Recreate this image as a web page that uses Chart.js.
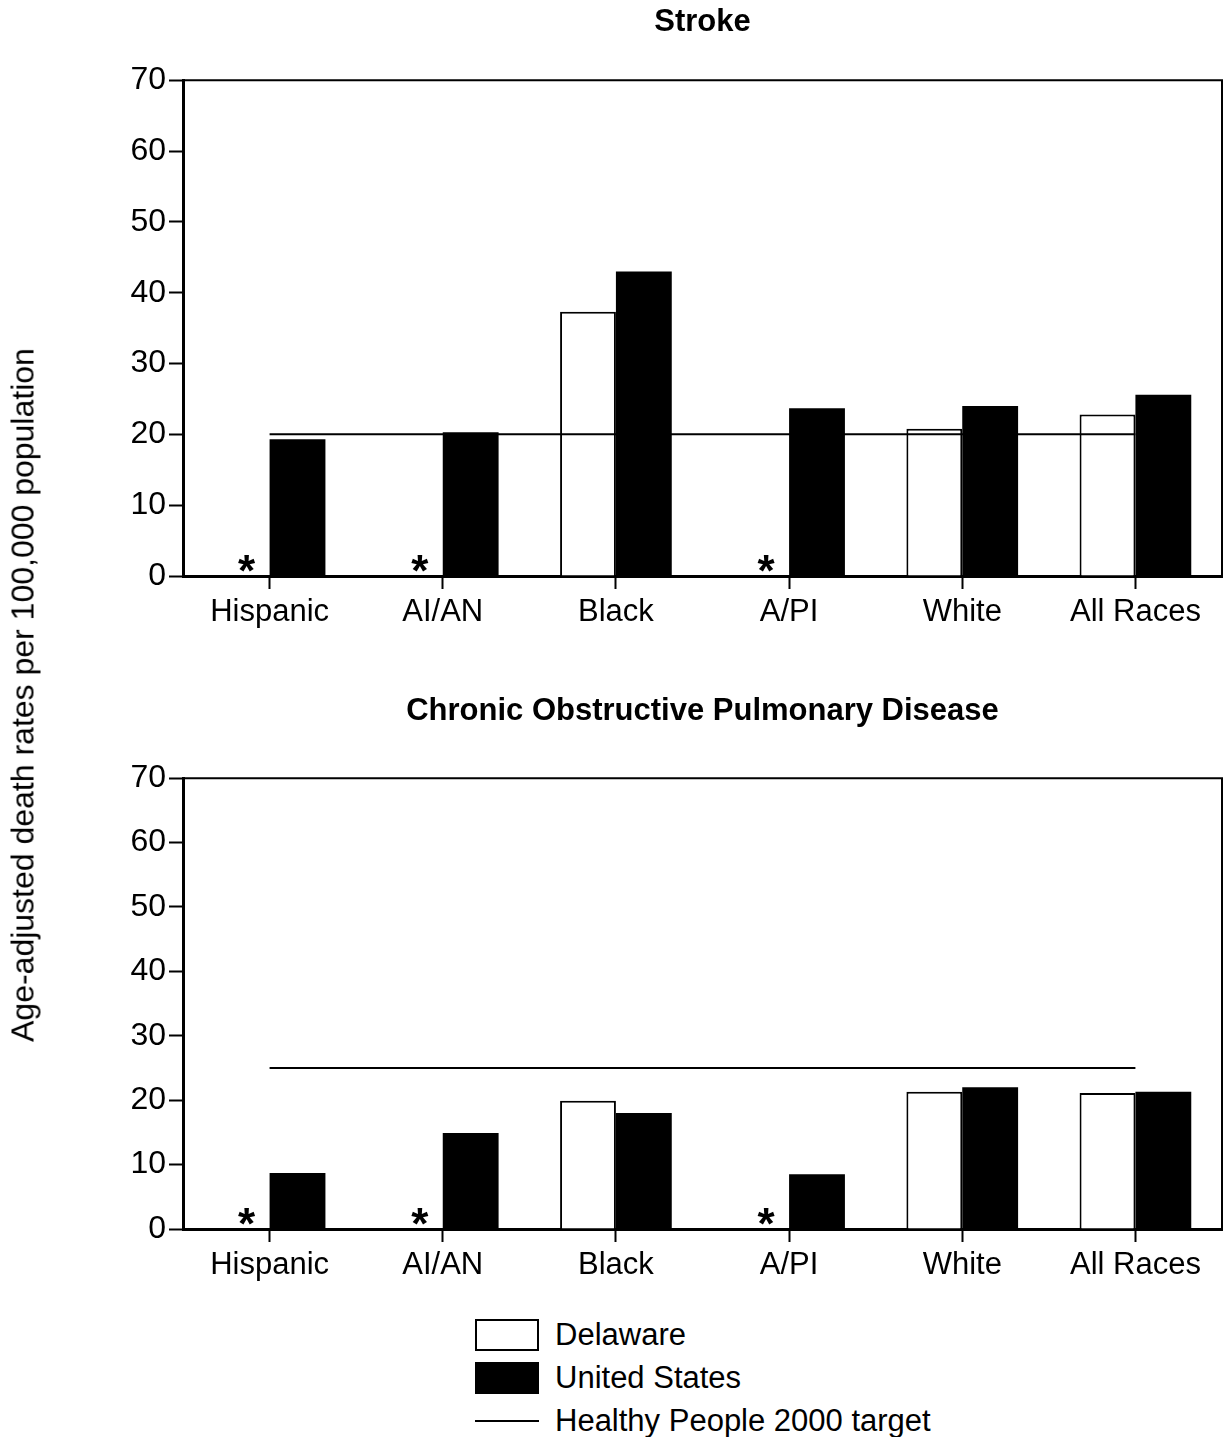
<!DOCTYPE html>
<html>
<head>
<meta charset="utf-8">
<script src="https://cdn.jsdelivr.net/npm/chart.js@4.4.1/dist/chart.umd.min.js"></script>
<style>
  body { margin: 0; background: #fff; font-family: "Liberation Sans", Arial, sans-serif; color: #000; }
  #page { position: relative; width: 1231px; height: 1437px; overflow: hidden; }
  .panel { position: absolute; left: 0; width: 1231px; }
  #strokeWrap { top: 0; height: 660px; }
  #copdWrap { top: 660px; height: 653px; }
  #yTitle {
    position: absolute; left: 23px; top: 695px;
    transform: translate(-50%, -50%) rotate(-90deg);
    white-space: nowrap; font-size: 32px;
  }
  #legend { position: absolute; left: 475px; top: 1313px; font-size: 31px; }
  .item { display: flex; align-items: center; height: 43px; }
  .swatch { width: 60px; height: 28px; border: 2px solid #000; margin-right: 16px; }
  .swatch.us { background: #000; }
  .swatch.line { height: 0; border: none; border-top: 2px solid #000; width: 64px; }
</style>
</head>
<body>
<div id="page">
  <div class="panel" id="strokeWrap"><canvas id="strokeChart"></canvas></div>
  <div class="panel" id="copdWrap"><canvas id="copdChart"></canvas></div>
  <div id="yTitle">Age-adjusted death rates per 100,000 population</div>
  <div id="legend">
    <div class="item"><span class="swatch"></span>Delaware</div>
    <div class="item"><span class="swatch us"></span>United States</div>
    <div class="item"><span class="swatch line"></span>Healthy People 2000 target</div>
  </div>
</div>
<script>
// Categories and values (null = data not shown, marked *)
const categories = ['Hispanic', 'AI/AN', 'Black', 'A/PI', 'White', 'All Races'];

const strokeDelaware = [null, null, 37.3, null, 20.8, 22.8];
const strokeUS = [19.3, 20.3, 43.0, 23.7, 24.0, 25.6];
const strokeTarget = [20, 20, 20, 20, 20, 20];

const copdDelaware = [null, null, 19.9, null, 21.3, 21.1];
const copdUS = [8.7, 14.9, 18.0, 8.5, 22.0, 21.3];
const copdTarget = [25, 25, 25, 25, 25, 25];

const yTicks = [0, 10, 20, 30, 40, 50, 60, 70];

Chart.defaults.font.family = '"Liberation Sans", Arial, sans-serif';
Chart.defaults.color = '#000';

// Asterisk where the Delaware rate is not available
const asteriskPlugin = {
    id: 'asterisks',
    afterDatasetsDraw(chart) {
        const ctx = chart.ctx;
        const y0 = chart.scales.y.getPixelForValue(0);
        const usMeta = chart.getDatasetMeta(1);
        ctx.save();
        ctx.font = 'bold 44px "Liberation Sans", Arial, sans-serif';
        ctx.fillStyle = '#000';
        ctx.textAlign = 'center';
        ctx.textBaseline = 'alphabetic';
        chart.data.datasets[0].data.forEach((v, i) => {
            if (v === null) {
                const bar = usMeta.data[i];
                ctx.fillText('*', bar.x - bar.width + 5, y0 + 10);
            }
        });
        ctx.restore();
    }
};

// Top and right edges of the plot box
const framePlugin = {
    id: 'frame',
    afterDraw(chart) {
        const { ctx, chartArea: a } = chart;
        ctx.save();
        ctx.strokeStyle = '#000';
        ctx.lineWidth = 2;
        ctx.beginPath();
        ctx.moveTo(a.left, a.top);
        ctx.lineTo(a.right, a.top);
        ctx.lineTo(a.right, a.bottom);
        ctx.stroke();
        ctx.restore();
    }
};

function createPanel(id, title, titlePad, delaware, us, target) {
    const ctx = document.getElementById(id);
    return new Chart(ctx, {
        type: 'bar',
        data: {
            labels: categories,
            datasets: [{
                label: 'Delaware',
                data: delaware,
                backgroundColor: '#fff',
                borderColor: '#000',
                borderWidth: 2,
                order: 1
            }, {
                label: 'United States',
                data: us,
                backgroundColor: '#000',
                borderWidth: 0,
                order: 1
            }, {
                type: 'line',
                label: 'Healthy People 2000 target',
                data: target,
                borderColor: '#000',
                borderWidth: 2,
                pointRadius: 0,
                order: 0
            }]
        },
        options: {
            responsive: true,
            maintainAspectRatio: false,
            animation: false,
            layout: { padding: { left: 0, right: 9, top: 0, bottom: 0 } },
            datasets: { bar: { barPercentage: 1.0, categoryPercentage: 0.645 } },
            scales: {
                x: {
                    grid: { display: true, offset: false, drawOnChartArea: false, tickLength: 13, tickWidth: 2, tickColor: '#000' },
                    border: { display: true, color: '#000', width: 3 },
                    ticks: { font: { size: 31 }, padding: 5, maxRotation: 0 },
                    afterFit(axis) { axis.height = 84; }
                },
                y: {
                    min: 0,
                    max: 70,
                    afterBuildTicks(axis) { axis.ticks = yTicks.map(v => ({ value: v })); },
                    grid: { display: true, drawOnChartArea: false, tickLength: 14, tickWidth: 2, tickColor: '#000' },
                    border: { display: true, color: '#000', width: 3 },
                    ticks: { font: { size: 32 }, padding: 3 },
                    afterFit(axis) { axis.width = 183; }
                }
            },
            plugins: {
                legend: { display: false },
                tooltip: { enabled: false },
                title: {
                    display: true,
                    fullSize: false,
                    text: title,
                    font: { size: 31, weight: 'bold' },
                    padding: titlePad
                }
            }
        },
        plugins: [asteriskPlugin, framePlugin]
    });
}

createPanel('strokeChart', 'Stroke', { top: 4, bottom: 39 }, strokeDelaware, strokeUS, strokeTarget);
createPanel('copdChart', 'Chronic Obstructive Pulmonary Disease', { top: 33, bottom: 48 }, copdDelaware, copdUS, copdTarget);
</script>
</body>
</html>
